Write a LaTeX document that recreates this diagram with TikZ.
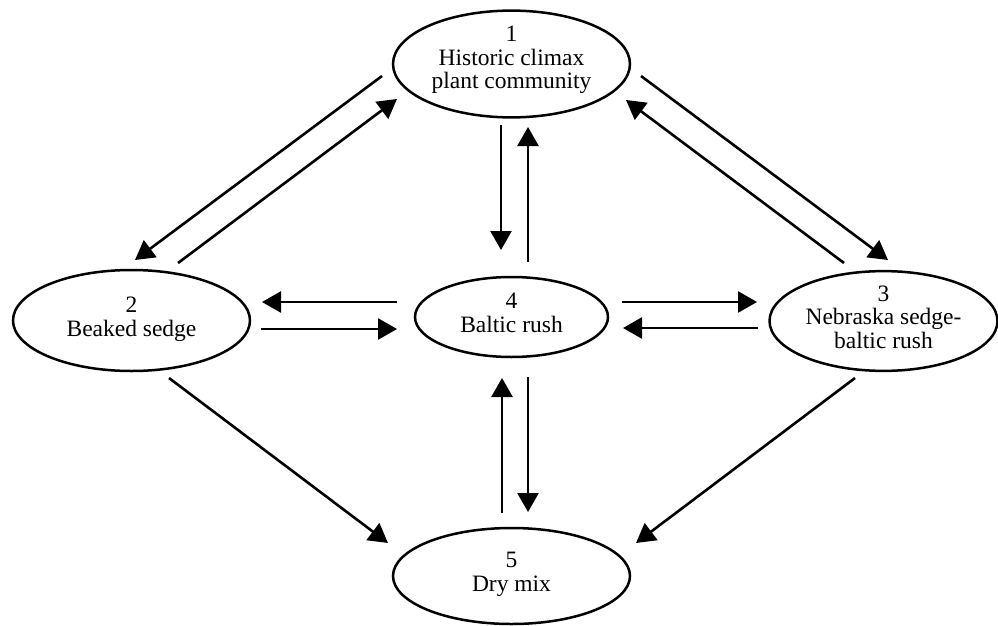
\documentclass[tikz,border=0pt]{standalone}
\usepackage{fontspec}
\setmainfont{Liberation Serif}
\usepackage{tikz}
\usetikzlibrary{arrows.meta, shapes.geometric}

\begin{document}
\begin{tikzpicture}[x=1pt, y=-1pt,
    state/.style={ellipse, draw, line width=2.5pt, inner sep=0pt, align=center,
        text depth=8pt, font=\fontsize{23.5}{23.5}\selectfont},
    flow/.style={-{Triangle[length=19pt, width=21pt]}, line width=2.6pt}]
    \useasboundingbox (0,0) rectangle (998,626);

    % States
    \node[state, minimum width=237pt, minimum height=98pt, text depth=13pt] (hist) at (511.5,64) {1\\Historic climax\\plant community};
    \node[state, minimum width=237pt, minimum height=101pt] (beaked) at (131.5,320.5) {2\\Beaked sedge};
    \node[state, minimum width=228pt, minimum height=99pt] (nebr) at (883.5,321) {3\\Nebraska sedge-\\baltic rush};
    \node[state, minimum width=193pt, minimum height=80pt] (baltic) at (511.5,317) {4\\Baltic rush};
    \node[state, minimum width=237pt, minimum height=96pt] (dry) at (511.5,576) {5\\Dry mix};

    % 1 <-> 2 and 1 <-> 3
    \draw[flow] ([shift={(-129.5,12)}]hist.center) -- ([shift={(3.5,-60.5)}]beaked.center);
    \draw[flow] ([shift={(46.5,-57.5)}]beaked.center) -- ([shift={(-114.5,35)}]hist.center);
    \draw[flow] ([shift={(129.5,12)}]hist.center) -- ([shift={(4.5,-61)}]nebr.center);
    \draw[flow] ([shift={(-39.5,-58)}]nebr.center) -- ([shift={(114.5,36)}]hist.center);

    % 1 <-> 4
    \draw[flow] ([shift={(-10.5,61)}]hist.center) -- ([shift={(-10.5,-67)}]baltic.center);
    \draw[flow] ([shift={(16.5,-55)}]baltic.center) -- ([shift={(16.5,63)}]hist.center);

    % 4 <-> 2 and 4 <-> 3
    \draw[flow] ([shift={(-114.5,-15)}]baltic.center) -- ([shift={(130.5,-18.5)}]beaked.center);
    \draw[flow] ([shift={(129.5,8.5)}]beaked.center) -- ([shift={(-114.5,12)}]baltic.center);
    \draw[flow] ([shift={(110.5,-15)}]baltic.center) -- ([shift={(-126.5,-19)}]nebr.center);
    \draw[flow] ([shift={(-125.5,7)}]nebr.center) -- ([shift={(111.5,11)}]baltic.center);

    % 4 <-> 5
    \draw[flow] ([shift={(16.5,60)}]baltic.center) -- ([shift={(16.5,-64)}]dry.center);
    \draw[flow] ([shift={(-9.5,-63)}]dry.center) -- ([shift={(-9.5,61)}]baltic.center);

    % 2 -> 5 and 3 -> 5
    \draw[flow] ([shift={(37.5,57.5)}]beaked.center) -- ([shift={(-123.5,-33)}]dry.center);
    \draw[flow] ([shift={(-28.5,57)}]nebr.center) -- ([shift={(124.5,-33)}]dry.center);
\end{tikzpicture}
\end{document}
